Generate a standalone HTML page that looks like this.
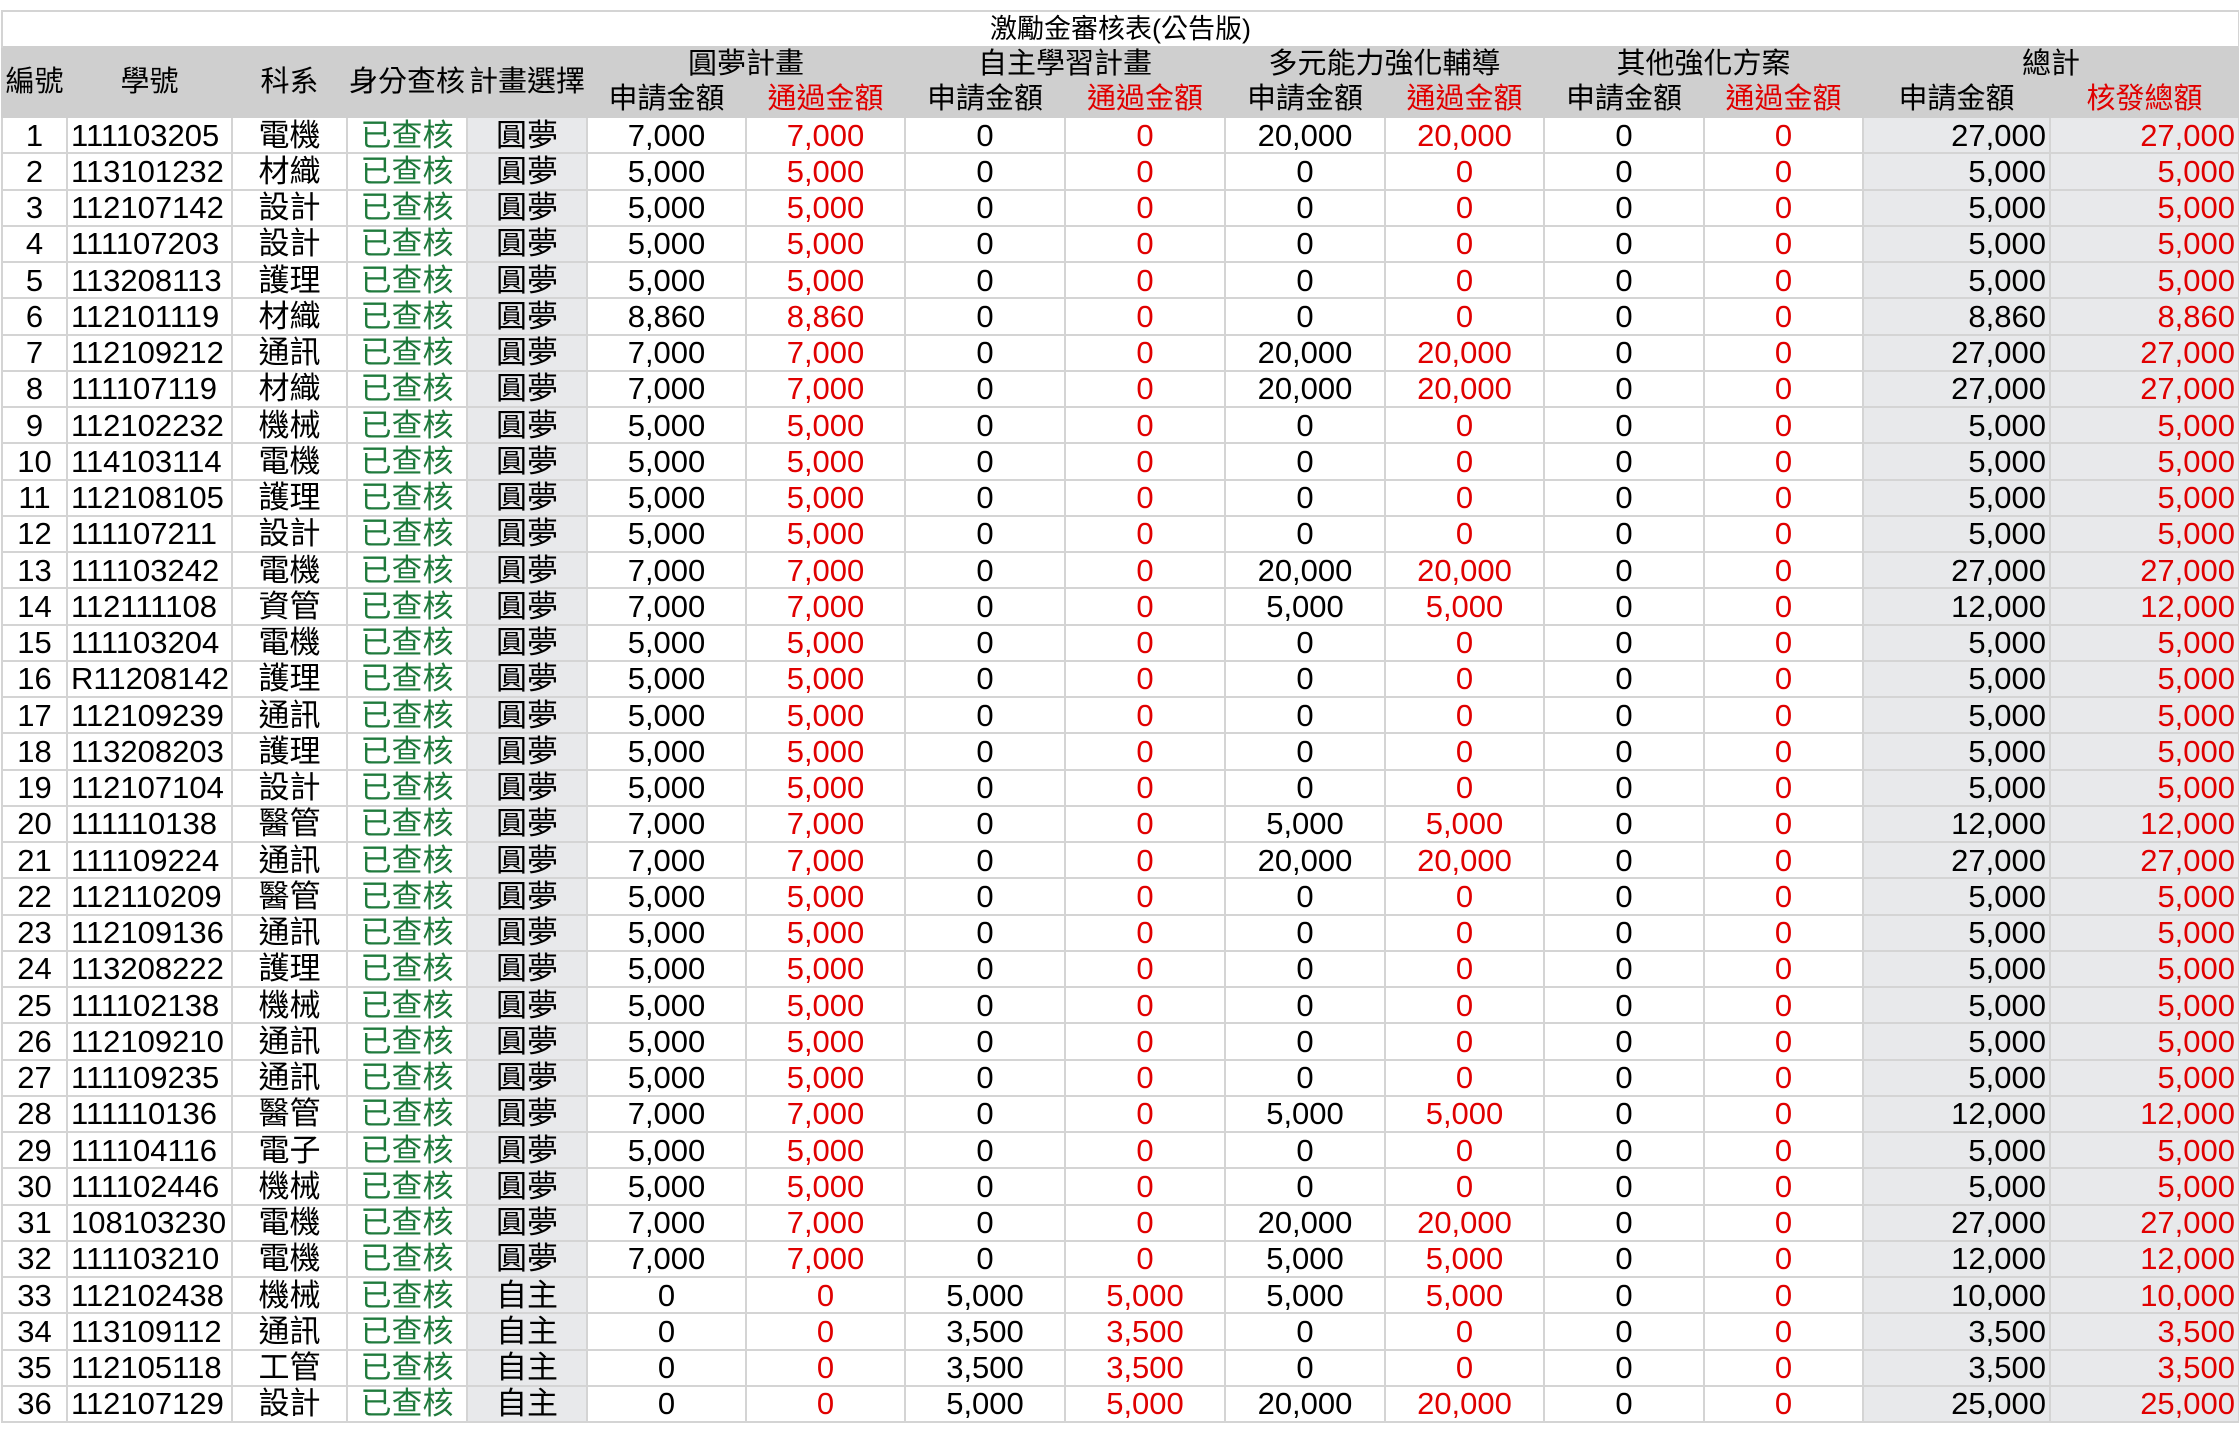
<!DOCTYPE html>
<html><head><meta charset="utf-8">
<style>
body{margin:0;background:#fff;width:2239px;height:1438px;overflow:hidden;font-family:"Liberation Sans","Noto Sans CJK TC",sans-serif;}
table{position:absolute;left:1px;top:10px;border-collapse:collapse;table-layout:fixed;width:2237px;}
td{border:2px solid #d4d4d4;padding:0;font-size:31px;text-align:center;white-space:nowrap;overflow:hidden;line-height:1;color:#000;}
tr.d td{height:34.25px;}
.t td{height:34px;font-size:27px;border-bottom:none;}
.h td{background:#cfcfcf;border-color:#cfcfcf;font-size:29px;height:33px;}
.g{color:#1f7a3c}
.r{color:#e00000}
.s{background:#e8e9eb}
.R{text-align:right;padding-right:3px}
.L{text-align:left;padding-left:3px}
</style></head><body>
<table>
<colgroup><col style="width:65px"><col style="width:165px"><col style="width:115px"><col style="width:120px"><col style="width:120px"><col style="width:159px"><col style="width:159px"><col style="width:160px"><col style="width:160px"><col style="width:160px"><col style="width:159px"><col style="width:160px"><col style="width:159px"><col style="width:187px"><col style="width:189px"></colgroup>
<tr class="t"><td colspan="15">激勵金審核表(公告版)</td></tr>
<tr class="h"><td rowspan="2">編號</td><td rowspan="2">學號</td><td rowspan="2">科系</td><td rowspan="2">身分查核</td><td rowspan="2">計畫選擇</td><td colspan="2">圓夢計畫</td><td colspan="2">自主學習計畫</td><td colspan="2">多元能力強化輔導</td><td colspan="2">其他強化方案</td><td colspan="2">總計</td></tr>
<tr class="h"><td>申請金額</td><td class="r">通過金額</td><td>申請金額</td><td class="r">通過金額</td><td>申請金額</td><td class="r">通過金額</td><td>申請金額</td><td class="r">通過金額</td><td>申請金額</td><td class="r">核發總額</td></tr>
<tbody id="b"></tbody>
</table>
<script>
const D=[
[1,"111103205","電機","圓夢","7,000","0","20,000","27,000"],
[2,"113101232","材織","圓夢","5,000","0","0","5,000"],
[3,"112107142","設計","圓夢","5,000","0","0","5,000"],
[4,"111107203","設計","圓夢","5,000","0","0","5,000"],
[5,"113208113","護理","圓夢","5,000","0","0","5,000"],
[6,"112101119","材織","圓夢","8,860","0","0","8,860"],
[7,"112109212","通訊","圓夢","7,000","0","20,000","27,000"],
[8,"111107119","材織","圓夢","7,000","0","20,000","27,000"],
[9,"112102232","機械","圓夢","5,000","0","0","5,000"],
[10,"114103114","電機","圓夢","5,000","0","0","5,000"],
[11,"112108105","護理","圓夢","5,000","0","0","5,000"],
[12,"111107211","設計","圓夢","5,000","0","0","5,000"],
[13,"111103242","電機","圓夢","7,000","0","20,000","27,000"],
[14,"112111108","資管","圓夢","7,000","0","5,000","12,000"],
[15,"111103204","電機","圓夢","5,000","0","0","5,000"],
[16,"R11208142","護理","圓夢","5,000","0","0","5,000"],
[17,"112109239","通訊","圓夢","5,000","0","0","5,000"],
[18,"113208203","護理","圓夢","5,000","0","0","5,000"],
[19,"112107104","設計","圓夢","5,000","0","0","5,000"],
[20,"111110138","醫管","圓夢","7,000","0","5,000","12,000"],
[21,"111109224","通訊","圓夢","7,000","0","20,000","27,000"],
[22,"112110209","醫管","圓夢","5,000","0","0","5,000"],
[23,"112109136","通訊","圓夢","5,000","0","0","5,000"],
[24,"113208222","護理","圓夢","5,000","0","0","5,000"],
[25,"111102138","機械","圓夢","5,000","0","0","5,000"],
[26,"112109210","通訊","圓夢","5,000","0","0","5,000"],
[27,"111109235","通訊","圓夢","5,000","0","0","5,000"],
[28,"111110136","醫管","圓夢","7,000","0","5,000","12,000"],
[29,"111104116","電子","圓夢","5,000","0","0","5,000"],
[30,"111102446","機械","圓夢","5,000","0","0","5,000"],
[31,"108103230","電機","圓夢","7,000","0","20,000","27,000"],
[32,"111103210","電機","圓夢","7,000","0","5,000","12,000"],
[33,"112102438","機械","自主","0","5,000","5,000","10,000"],
[34,"113109112","通訊","自主","0","3,500","0","3,500"],
[35,"112105118","工管","自主","0","3,500","0","3,500"],
[36,"112107129","設計","自主","0","5,000","20,000","25,000"]];
let h="";
for(const r of D){
h+=`<tr class="d"><td>${r[0]}</td><td class="L">${r[1]}</td><td>${r[2]}</td><td class="g">已查核</td><td class="s">${r[3]}</td><td>${r[4]}</td><td class="r">${r[4]}</td><td>${r[5]}</td><td class="r">${r[5]}</td><td>${r[6]}</td><td class="r">${r[6]}</td><td>0</td><td class="r">0</td><td class="s R">${r[7]}</td><td class="s R r">${r[7]}</td></tr>`;
}
document.getElementById("b").innerHTML=h;
</script>
</body></html>
